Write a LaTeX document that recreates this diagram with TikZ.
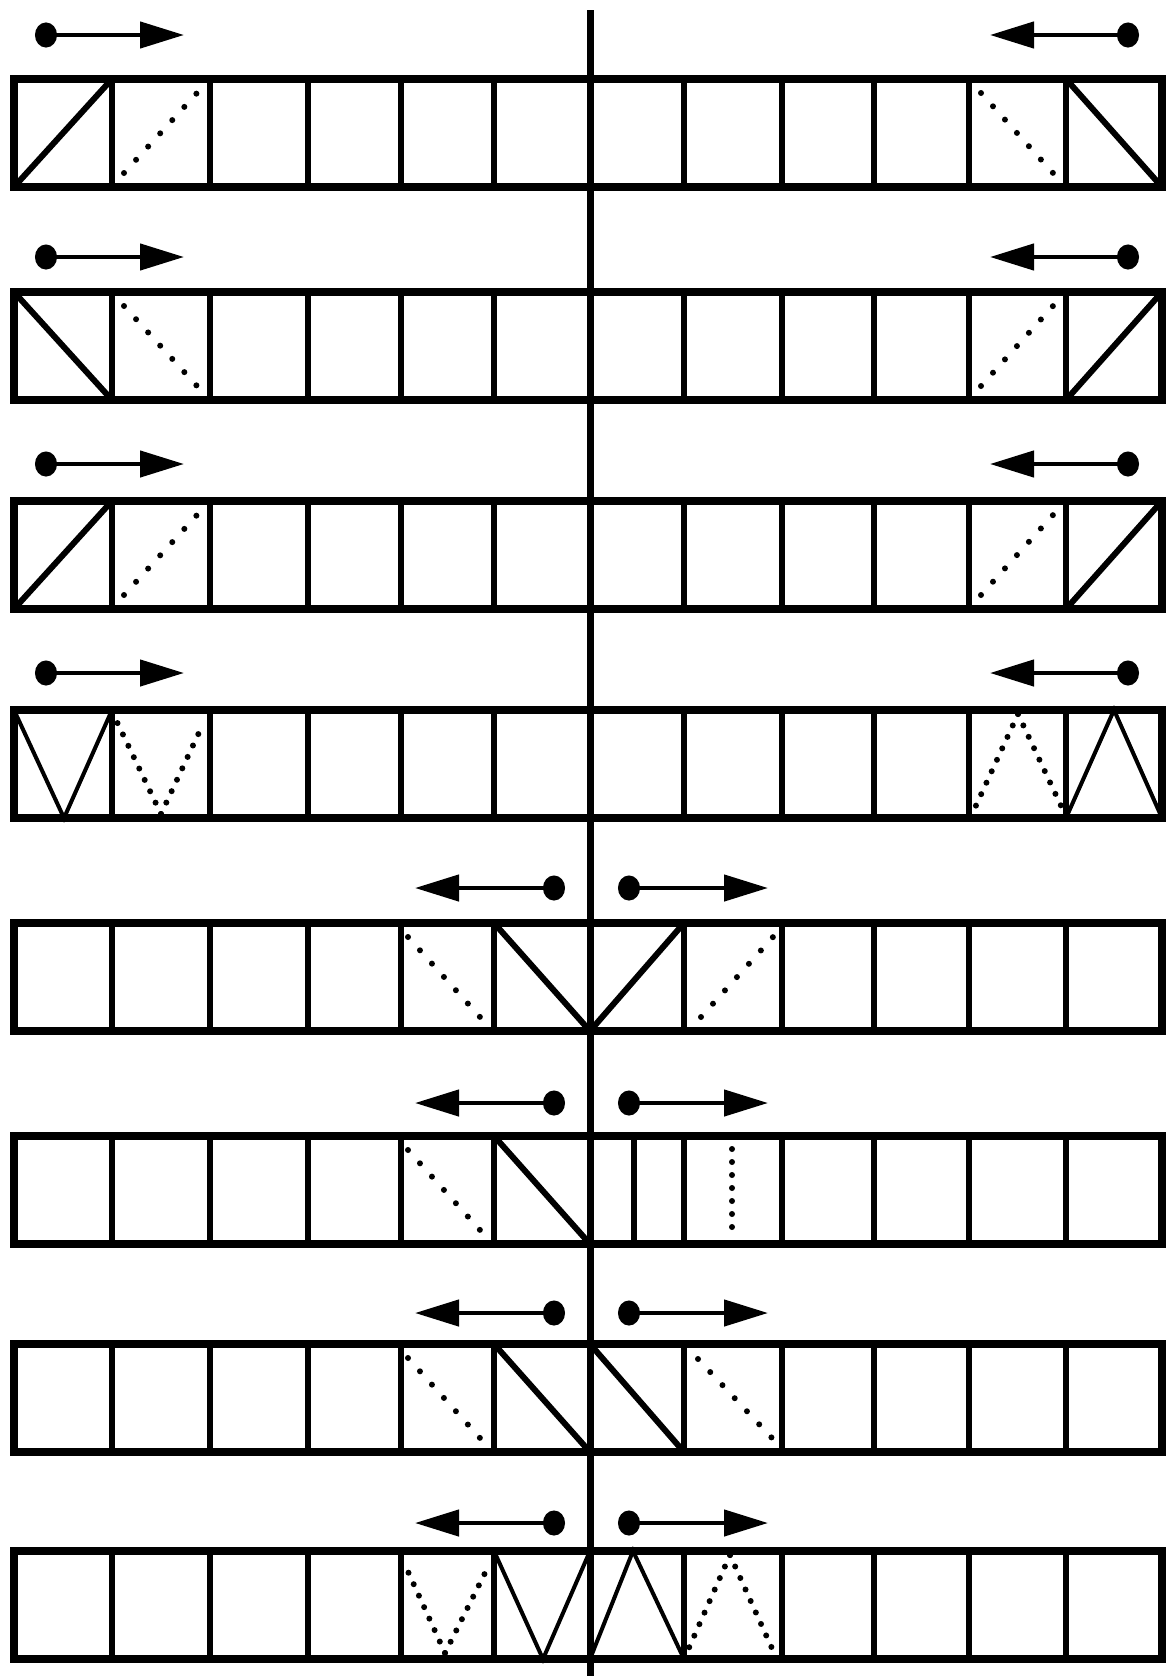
\documentclass[tikz,border=0pt]{standalone}
\usetikzlibrary{arrows.meta}
\tikzset{
  rail/.style={line width=7.5pt},
  wall/.style={line width=6pt},
  midline/.style={line width=7pt},
  bar/.style={line width=6pt},
  thinbar/.style={line width=4pt},
  % dotted ghost of a bar
  ghost/.style={line width=6pt, line cap=round, dash pattern=on 0pt off 17.9pt},
  ghostv/.style={line width=6pt, line cap=round, dash pattern=on 0pt off 12.6pt},
  % a dot pushed along by an arrow
  pusher/.style={line width=4.5pt,
    {Circle[length=22pt,width=25pt]}-{Triangle[length=44pt,width=26pt]}},
}
\begin{document}
\begin{tikzpicture}[x=1pt,y=-1pt]
  \useasboundingbox (0,0) rectangle (1165,1676);
  % strip 1
  \begin{scope}[shift={(0,79)}]
    \draw[bar] (14,108) -- (112,0);
    \draw[ghost] (124,94) -- (197,14);
    \draw[bar] (1066,0) -- (1162,108);
    \draw[ghost] (981,14) -- (1053,94);
  \end{scope}
  % strip 2
  \begin{scope}[shift={(0,292)}]
    \draw[bar] (14,0) -- (112,108);
    \draw[ghost] (124,14) -- (197,94);
    \draw[bar] (1066,108) -- (1162,0);
    \draw[ghost] (981,94) -- (1053,14);
  \end{scope}
  % strip 3
  \begin{scope}[shift={(0,501)}]
    \draw[bar] (14,108) -- (112,0);
    \draw[ghost] (124,94) -- (197,14);
    \draw[bar] (1066,108) -- (1162,0);
    \draw[ghost] (981,94) -- (1053,14);
  \end{scope}
  % strip 4
  \begin{scope}[shift={(0,710)}]
    \draw[thinbar] (14,0) -- (64,108) -- (112,0);
    \draw[ghostv] (161,104) -- (117,12);
    \draw[ghostv] (161,104) -- (203,14);
    \draw[thinbar] (1066,108) -- (1114,0) -- (1162,108);
    \draw[ghostv] (1018,4) -- (973,102);
    \draw[ghostv] (1018,4) -- (1063,100);
  \end{scope}
  % strip 5
  \begin{scope}[shift={(0,923)}]
    \draw[ghost] (408,14) -- (480,94);
    \draw[bar] (494,0) -- (590,108);
    \draw[bar] (590,108) -- (684,0);
    \draw[ghost] (701,94) -- (773,14);
  \end{scope}
  % strip 6
  \begin{scope}[shift={(0,1136)}]
    \draw[ghost] (408,14) -- (480,94);
    \draw[bar] (494,0) -- (590,108);
    \draw[bar] (634,0) -- (634,108);
    \draw[ghostv, dash pattern=on 0pt off 13pt] (732,13) -- (732,104);
  \end{scope}
  % strip 7
  \begin{scope}[shift={(0,1344)}]
    \draw[ghost] (408,14) -- (480,94);
    \draw[bar] (494,0) -- (590,108);
    \draw[bar] (590,0) -- (684,108);
    \draw[ghost] (698,15) -- (772,94);
  \end{scope}
  % strip 8
  \begin{scope}[shift={(0,1551)}]
    \draw[ghostv] (445,102) -- (405,14);
    \draw[ghostv] (445,102) -- (490,12);
    \draw[thinbar] (494,0) -- (543,108) -- (590,0);
    \draw[thinbar] (590,108) -- (633,0) -- (684,108);
    \draw[ghostv] (730,4) -- (688,99);
    \draw[ghostv] (730,4) -- (775,104);
  \end{scope}
  % the strips
  \foreach \sy in {79,292,501,710,923,1136,1344,1551} {
    \foreach \x in {112,210,308,401,494,684,782,874,969,1066}
      \draw[wall] (\x,\sy) -- (\x,\sy+108);
    \draw[rail] (14,\sy) rectangle (1162,\sy+108);
  }
  % sliders at the outer ends
  \foreach \ay in {35,257,464,673} {
    \draw[pusher] (35,\ay) -- (184,\ay);
    \draw[pusher] (1139,\ay) -- (990,\ay);
  }
  % sliders at the centre
  \foreach \ay in {888,1103,1313,1523} {
    \draw[pusher] (565,\ay) -- (415,\ay);
    \draw[pusher] (618,\ay) -- (768,\ay);
  }
  \draw[midline] (590,10) -- (590,1676);
\end{tikzpicture}
\end{document}
